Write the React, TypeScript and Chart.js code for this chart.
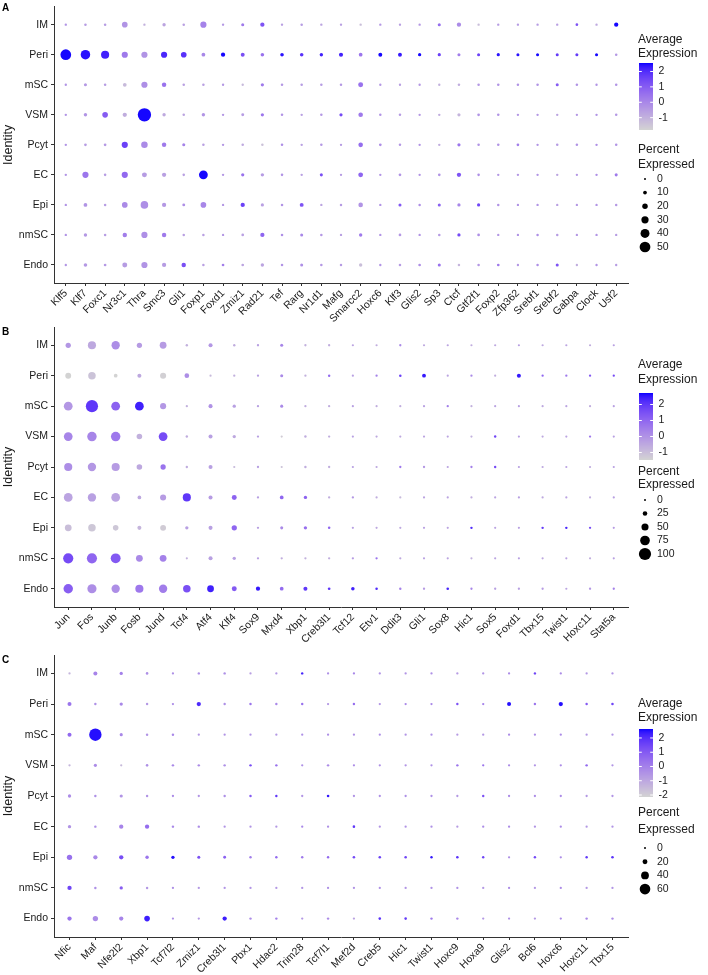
import React, { useEffect, useRef } from 'react';
import { Chart, registerables } from 'chart.js';

Chart.register(...registerables);

// ---------- data ----------
const CLUSTERS = ['IM', 'Peri', 'mSC', 'VSM', 'Pcyt', 'EC', 'Epi', 'nmSC', 'Endo'];

// Panel A
const GENES_A = ['Klf5', 'Klf7', 'Foxc1', 'Nr3c1', 'Thra', 'Smc3', 'Gli1', 'Foxp1', 'Foxd1', 'Zmiz1', 'Rad21', 'Tef', 'Rarg', 'Nr1d1', 'Mafg', 'Smarcc2', 'Hoxc6', 'Klf3', 'Glis2', 'Sp3', 'Ctcf', 'Gtf2f1', 'Foxp2', 'Zfp362', 'Srebf1', 'Srebf2', 'Gabpa', 'Clock', 'Usf2'];
// percent expressed, one row per gene, columns in CLUSTERS order
const PCT_A = [
  [2, 50, 2, 2, 2, 2, 2, 2, 2],
  [3, 43, 6, 8, 4, 24, 10, 8, 9],
  [3, 35, 3, 21, 4, 3, 3, 3, 4],
  [21, 24, 10, 13, 24, 24, 21, 14, 17],
  [2, 24, 24, 65, 26, 17, 32, 24, 24],
  [8, 24, 14, 8, 14, 13, 13, 14, 13],
  [3, 21, 3, 3, 6, 3, 5, 3, 14],
  [24, 10, 3, 8, 3, 39, 21, 3, 3],
  [2, 13, 2, 2, 2, 2, 2, 2, 4],
  [6, 11, 2, 5, 3, 7, 13, 4, 4],
  [13, 9, 7, 7, 3, 8, 7, 13, 8],
  [2, 9, 3, 3, 3, 3, 3, 3, 3],
  [3, 9, 3, 2, 2, 2, 11, 6, 6],
  [2, 8, 3, 3, 3, 6, 2, 3, 3],
  [2, 12, 3, 7, 2, 2, 3, 2, 3],
  [2, 10, 17, 15, 15, 16, 15, 8, 8],
  [2, 11, 2, 3, 4, 2, 2, 2, 2],
  [2, 11, 2, 3, 3, 4, 6, 4, 3],
  [2, 7, 2, 2, 2, 2, 3, 2, 4],
  [6, 7, 2, 2, 2, 4, 6, 3, 6],
  [13, 6, 3, 7, 7, 13, 7, 7, 3],
  [2, 6, 3, 4, 3, 3, 7, 4, 3],
  [2, 7, 3, 3, 3, 2, 3, 2, 4],
  [2, 6, 3, 2, 4, 2, 2, 2, 2],
  [2, 6, 3, 2, 2, 2, 2, 3, 3],
  [2, 6, 6, 2, 3, 2, 2, 3, 6],
  [4, 6, 3, 2, 3, 2, 2, 2, 2],
  [2, 6, 2, 2, 2, 2, 2, 2, 2],
  [13, 3, 3, 3, 3, 6, 3, 2, 2],
];
// scaled average expression
const AVG_A = [
  [-0.3, 2.5, -0.3, -0.3, -0.3, -0.3, -0.3, -0.3, -0.35],
  [-0.5, 2.4, -0.4, -0.3, -0.5, 0.4, -0.3, -0.4, -0.4],
  [-0.5, 2.2, -0.5, 1.0, -0.4, -0.5, -0.5, -0.5, -0.4],
  [-0.3, 0.3, -1.2, -0.9, 1.6, 0.7, -0.1, 0.2, -0.5],
  [-1.0, -0.3, -0.2, 2.5, -0.1, -0.5, -0.2, -0.2, -0.3],
  [-0.7, 2.1, 0.5, -0.8, 0.3, -0.6, -0.4, 0.3, -0.5],
  [-0.6, 1.9, -0.6, -0.7, 0.1, -0.6, -0.2, -0.6, 1.3],
  [0.1, 0.0, -0.6, -0.3, -0.6, 2.5, 0.0, -0.6, -0.6],
  [-0.4, 2.5, -0.4, -0.4, -0.4, -0.4, -0.4, -0.4, 0.2],
  [0.3, 1.3, -1.2, -0.5, -0.8, 0.5, 1.6, -0.6, -0.7],
  [1.2, 0.5, 0.3, 0.4, -1.4, -0.5, -0.6, 0.8, -0.7],
  [-0.6, 2.4, -0.4, -0.3, -0.2, -0.3, -0.3, -0.2, -0.3],
  [-0.5, 1.9, -0.5, -0.6, -0.6, -0.6, 1.2, 0.0, -0.2],
  [-0.7, 2.2, -0.5, -0.4, -0.4, 1.3, -0.7, -0.4, -0.4],
  [-0.6, 2.2, -0.4, 1.4, -0.5, -0.5, -0.5, -0.6, -0.5],
  [-1.3, 0.4, 0.5, 0.3, 0.6, 0.8, -0.3, 0.3, -1.3],
  [-0.4, 2.5, -0.4, -0.3, -0.2, -0.3, -0.3, -0.3, -0.3],
  [-0.6, 2.3, -0.6, -0.5, -0.4, -0.3, 1.1, -0.4, -0.5],
  [-0.4, 2.5, -0.4, -0.4, -0.3, -0.3, -0.2, -0.3, -0.2],
  [0.6, 1.6, -1.0, -0.9, -0.9, -0.3, 0.9, -0.5, 0.5],
  [-0.1, 0.2, -0.9, -1.1, 0.4, 1.2, 0.0, 1.4, -1.1],
  [-1.3, 1.6, -0.4, -0.3, -0.3, -0.2, 1.5, -0.2, -0.4],
  [-0.5, 2.4, -0.3, -0.3, -0.3, -0.4, -0.3, -0.4, 0.3],
  [-0.5, 2.4, -0.3, -0.4, 0.2, -0.4, -0.3, -0.3, -0.4],
  [-0.5, 2.5, -0.3, -0.4, -0.3, -0.3, -0.3, -0.2, -0.2],
  [-0.6, 1.7, 1.0, -0.7, -0.5, -0.7, -0.6, -0.5, 1.2],
  [1.2, 1.7, -0.3, -0.4, -0.3, -0.4, -0.4, -0.4, -0.9],
  [-0.8, 2.5, -0.3, -0.3, -0.2, -0.2, -0.3, -0.3, -0.3],
  [2.5, -0.4, -0.3, -0.4, -0.3, 0.3, -0.4, -0.5, -0.5],
];
const AVG_TICKS_A = [2, 1, 0, -1];
const PCT_TICKS_A = [0, 10, 20, 30, 40, 50];

// Panel B
const GENES_B = ['Jun', 'Fos', 'Junb', 'Fosb', 'Jund', 'Tcf4', 'Atf4', 'Klf4', 'Sox9', 'Mxd4', 'Xbp1', 'Creb3l1', 'Tcf12', 'Etv1', 'Ddit3', 'Gli1', 'Sox8', 'Hic1', 'Sox5', 'Foxd1', 'Tbx15', 'Twist1', 'Hoxc11', 'Stat5a'];
const PCT_B = [
  [32, 38, 66, 66, 60, 66, 47, 80, 73],
  [60, 54, 100, 73, 62, 62, 54, 80, 70],
  [62, 17, 66, 73, 60, 66, 35, 77, 62],
  [32, 20, 66, 35, 35, 17, 20, 47, 60],
  [47, 40, 40, 66, 32, 40, 38, 47, 62],
  [4, 26, 3, 4, 4, 60, 13, 2, 54],
  [20, 2, 20, 20, 20, 20, 20, 20, 47],
  [4, 3, 13, 13, 2, 29, 32, 13, 29],
  [3, 3, 3, 3, 3, 3, 3, 3, 22],
  [10, 10, 10, 2, 2, 17, 10, 3, 17],
  [3, 3, 3, 4, 4, 13, 13, 3, 20],
  [3, 4, 3, 3, 3, 3, 5, 3, 7],
  [2, 2, 2, 2, 2, 3, 2, 3, 15],
  [2, 3, 2, 2, 2, 2, 2, 3, 5],
  [3, 5, 2, 2, 3, 2, 2, 2, 4],
  [2, 18, 2, 2, 3, 2, 2, 2, 3],
  [2, 2, 3, 2, 2, 2, 2, 2, 6],
  [2, 3, 2, 2, 3, 2, 4, 2, 3],
  [2, 2, 2, 4, 4, 2, 2, 2, 3],
  [2, 20, 2, 2, 2, 2, 2, 2, 3],
  [2, 3, 2, 2, 2, 2, 4, 2, 3],
  [2, 3, 2, 2, 2, 2, 4, 2, 2],
  [2, 3, 2, 3, 2, 2, 3, 2, 3],
  [2, 3, 2, 2, 2, 2, 2, 2, 3],
];
const AVG_B = [
  [-0.1, -1.5, -0.1, 0.3, 0.1, -0.4, -1.0, 1.6, 1.2],
  [-0.5, -1.1, 2.0, 0.3, -0.1, -0.3, -1.2, 1.0, 0.1],
  [0.1, -1.5, 1.1, 0.6, -0.2, -0.4, -1.2, 1.3, 0.1],
  [-0.2, -0.5, 2.4, -0.7, -0.5, -0.5, -0.8, 0.2, 0.6],
  [-0.2, -1.4, -0.1, 1.6, 0.7, -0.2, -1.3, 0.4, 0.5],
  [-0.7, 0.1, -0.7, -0.6, -0.6, 2.0, -0.3, -0.7, 1.5],
  [-0.1, -0.9, 0.0, -0.3, -0.3, -0.2, -0.3, -0.3, 2.4],
  [-0.6, -0.7, -0.3, -0.5, -0.9, 1.1, 1.0, -0.3, 1.3],
  [-0.3, -0.3, -0.3, -0.3, -0.3, -0.3, -0.3, -0.3, 2.5],
  [0.3, 0.2, 0.2, -1.3, -1.1, 1.0, 0.2, -0.6, 0.9],
  [-0.7, -0.7, -0.6, -0.6, -0.6, 1.1, 0.8, -0.7, 2.0],
  [-0.6, 0.9, -0.6, -0.6, -0.6, -0.6, 1.0, -0.6, 2.0],
  [-0.4, -0.3, -0.3, -0.3, -0.3, -0.1, -0.3, -0.2, 2.4],
  [-0.6, 0.4, -0.6, -0.5, -0.5, -0.6, -0.5, 0.7, 2.2],
  [0.2, 1.8, -0.6, -0.5, 0.6, -0.9, -0.5, -0.5, 0.4],
  [-0.5, 2.5, -0.3, -0.4, -0.1, -0.4, -0.3, -0.3, -0.2],
  [-0.4, -0.4, 0.5, -0.4, -0.4, -0.4, -0.4, -0.4, 2.3],
  [-0.6, 0.2, -0.7, -0.7, 0.4, -0.6, 2.2, -0.7, 0.3],
  [-0.5, -0.6, -0.4, 1.7, 1.6, -0.4, -0.4, -0.4, -0.3],
  [-0.3, 2.6, -0.3, -0.3, -0.3, -0.3, -0.3, -0.3, -0.3],
  [-0.5, 1.0, -0.5, -0.5, -0.5, -0.5, 1.9, -0.5, -0.2],
  [-0.4, 0.6, -0.4, -0.4, -0.4, -0.4, 2.3, -0.4, -0.4],
  [-0.6, 1.3, -0.6, 0.6, -0.6, -0.6, 1.6, -0.6, -0.1],
  [-0.3, 1.6, -0.3, -0.3, -0.3, -0.3, -0.2, -0.3, 0.4],
];
const AVG_TICKS_B = [2, 1, 0, -1];
const PCT_TICKS_B = [0, 25, 50, 75, 100];

// Panel C
const GENES_C = ['Nfic', 'Maf', 'Nfe2l2', 'Xbp1', 'Tcf7l2', 'Zmiz1', 'Creb3l1', 'Pbx1', 'Hdac2', 'Trim28', 'Tcf7l1', 'Mef2d', 'Creb5', 'Hic1', 'Twist1', 'Hoxc9', 'Hoxa9', 'Glis2', 'Bcl6', 'Hoxc6', 'Hoxc11', 'Tbx15'];
const PCT_C = [
  [2, 14, 14, 2, 9, 9, 23, 16, 16],
  [14, 3, 72, 8, 3, 3, 16, 3, 23],
  [9, 9, 8, 2, 8, 16, 16, 9, 16],
  [4, 3, 3, 4, 3, 16, 10, 3, 25],
  [2, 2, 3, 3, 2, 3, 9, 2, 2],
  [3, 16, 2, 3, 2, 3, 7, 2, 2],
  [3, 3, 2, 3, 3, 2, 6, 2, 16],
  [2, 3, 2, 3, 3, 2, 3, 2, 3],
  [2, 3, 2, 3, 3, 2, 3, 2, 3],
  [3, 3, 2, 2, 2, 2, 3, 2, 2],
  [2, 2, 2, 3, 4, 2, 3, 2, 3],
  [2, 3, 2, 2, 2, 4, 4, 2, 2],
  [2, 2, 2, 2, 2, 2, 4, 2, 4],
  [2, 2, 2, 2, 2, 2, 4, 2, 4],
  [2, 2, 2, 2, 2, 2, 3, 2, 3],
  [2, 3, 2, 3, 2, 2, 4, 2, 3],
  [2, 2, 2, 2, 3, 2, 3, 2, 2],
  [2, 14, 2, 2, 2, 2, 2, 2, 2],
  [3, 3, 2, 2, 2, 2, 3, 2, 2],
  [2, 16, 2, 2, 2, 2, 2, 2, 2],
  [2, 3, 2, 3, 2, 2, 3, 2, 3],
  [2, 4, 2, 2, 2, 2, 4, 2, 3],
];
const AVG_C = [
  [-1.4, 0.3, 0.6, -1.4, -0.3, -0.5, 0.4, 1.5, 0.3],
  [-0.1, -0.4, 2.6, -0.3, -0.4, -0.4, -0.2, -0.4, -0.3],
  [0.0, -0.2, -0.2, -1.5, -0.5, -0.1, 1.3, 0.9, -0.1],
  [-0.4, -0.6, -0.5, -0.4, -0.5, 0.5, 0.3, -0.6, 2.3],
  [-0.4, -0.3, -0.2, -0.2, -0.3, -0.2, 2.5, -0.4, -0.4],
  [-0.4, 2.1, -0.6, -0.3, -0.5, -0.3, 1.2, -0.6, -0.6],
  [-0.4, -0.4, -0.5, -0.4, -0.4, -0.5, 0.8, -0.5, 2.3],
  [-0.8, 0.3, -0.5, 1.3, 1.0, -0.5, 0.1, -0.5, -0.3],
  [-0.6, -0.2, -0.6, 0.4, 1.8, -0.6, 0.6, -0.6, 0.0],
  [2.2, 0.4, -0.4, -0.4, -0.5, -0.2, 0.2, -0.5, -0.6],
  [-0.4, -0.6, -0.4, -0.3, 2.4, -0.4, 0.6, -0.4, -0.3],
  [-0.2, 0.5, -0.5, -0.3, -0.5, 1.8, 1.4, -0.5, -0.9],
  [-0.5, -0.5, -0.4, -0.4, -0.4, -0.5, 1.6, -0.4, 1.9],
  [-0.5, -0.2, -0.5, -0.5, -0.4, -0.5, 1.5, -0.5, 1.7],
  [-0.4, -0.2, -0.4, -0.4, -0.4, -0.4, 2.4, -0.4, 0.2],
  [-0.7, 1.2, -0.7, 0.3, -0.6, -0.7, 1.9, -0.4, -0.2],
  [-0.5, 0.0, -0.6, 0.3, 1.2, -0.3, 1.5, -0.6, -0.6],
  [-0.3, 2.6, -0.3, -0.3, -0.3, -0.3, -0.4, -0.3, -0.4],
  [1.5, 0.3, -0.4, -0.5, -0.3, -0.5, 1.4, -0.6, -0.6],
  [-0.3, 2.6, -0.3, -0.3, -0.3, -0.3, -0.3, -0.3, -0.3],
  [-0.6, 1.0, -0.6, 0.6, -0.6, -0.6, 1.8, -0.6, -0.2],
  [-0.5, 1.5, -0.5, -0.5, -0.5, -0.5, 1.9, -0.5, -0.3],
];
const AVG_TICKS_C = [2, 1, 0, -1, -2];
const PCT_TICKS_C = [0, 20, 40, 60];

// ---------- styling / layout ----------
const FONT = "'Liberation Sans', Arial, Helvetica, sans-serif";
const TEXT = '#1a1a1a';
const AXIS = '#333333';
const W = 708;
const AXIS_LEFT = 54;
const AXIS_RIGHT = 628;
const R_MIN = 1.0;

// colour helpers (Lab interpolation lightgrey -> blue, like ggplot's gradient)
function toLin(c: number) { c /= 255; return c <= 0.04045 ? c / 12.92 : Math.pow((c + 0.055) / 1.055, 2.4); }
function fromLin(c: number) { const v = c <= 0.0031308 ? 12.92 * c : 1.055 * Math.pow(c, 1 / 2.4) - 0.055; return Math.max(0, Math.min(255, Math.round(v * 255))); }
function rgbToLab(r: number, g: number, b: number) {
  const R = toLin(r), G = toLin(g), B = toLin(b);
  const X = (0.4124 * R + 0.3576 * G + 0.1805 * B) / 0.95047;
  const Y = 0.2126 * R + 0.7152 * G + 0.0722 * B;
  const Z = (0.0193 * R + 0.1192 * G + 0.9505 * B) / 1.08883;
  const f = (t: number) => (t > 0.008856 ? Math.cbrt(t) : 7.787 * t + 16 / 116);
  const fx = f(X), fy = f(Y), fz = f(Z);
  return [116 * fy - 16, 500 * (fx - fy), 200 * (fy - fz)];
}
function labToRgb(L: number, a: number, b: number) {
  const fy = (L + 16) / 116, fx = fy + a / 500, fz = fy - b / 200;
  const inv = (t: number) => (t * t * t > 0.008856 ? t * t * t : (t - 16 / 116) / 7.787);
  const X = inv(fx) * 0.95047, Y = inv(fy), Z = inv(fz) * 1.08883;
  const R = 3.2406 * X - 1.5372 * Y - 0.4986 * Z;
  const G = -0.9689 * X + 1.8758 * Y + 0.0415 * Z;
  const B = 0.0557 * X - 0.204 * Y + 1.057 * Z;
  return `rgb(${fromLin(R)},${fromLin(G)},${fromLin(B)})`;
}
const LAB_LO = rgbToLab(211, 211, 211);
const LAB_HI = rgbToLab(0, 0, 255);
function colorFor(v: number, lo: number, hi: number) {
  const t = Math.max(0, Math.min(1, (v - lo) / (hi - lo)));
  return labToRgb(
    LAB_LO[0] + t * (LAB_HI[0] - LAB_LO[0]),
    LAB_LO[1] + t * (LAB_HI[1] - LAB_LO[1]),
    LAB_LO[2] + t * (LAB_HI[2] - LAB_LO[2])
  );
}

type Panel = {
  letter: string; genes: string[]; pct: number[][]; avg: number[][];
  avgTicks: number[]; pctTicks: number[];
  offset: number; height: number; top: number; bottom: number;
  range: [number, number]; rMax: number; pctMax: number;
  avgTitleY: [number, number]; barTop: number; barBottom: number;
  pctTitleY: [number, number]; pctY0: number; pctStep: number;
};

const PANELS: Panel[] = [
  {
    letter: 'A', genes: GENES_A, pct: PCT_A, avg: AVG_A, avgTicks: AVG_TICKS_A, pctTicks: PCT_TICKS_A,
    offset: 0, height: 335, top: 3, bottom: 283, range: [-1.8, 2.55], rMax: 6.5, pctMax: 63,
    avgTitleY: [40, 54], barTop: 63, barBottom: 130, pctTitleY: [150, 165], pctY0: 179, pctStep: 13.6,
  },
  {
    letter: 'B', genes: GENES_B, pct: PCT_B, avg: AVG_B, avgTicks: AVG_TICKS_B, pctTicks: PCT_TICKS_B,
    offset: 320, height: 340, top: 7, bottom: 287, range: [-1.47, 2.72], rMax: 6.1, pctMax: 100,
    avgTitleY: [45, 60], barTop: 73, barBottom: 140, pctTitleY: [152, 165], pctY0: 180, pctStep: 13.5,
  },
  {
    letter: 'C', genes: GENES_C, pct: PCT_C, avg: AVG_C, avgTicks: AVG_TICKS_C, pctTicks: PCT_TICKS_C,
    offset: 630, height: 345, top: 25, bottom: 307, range: [-2.14, 2.63], rMax: 6.2, pctMax: 72,
    avgTitleY: [74, 88], barTop: 99, barBottom: 167, pctTitleY: [183, 200], pctY0: 218, pctStep: 13.7,
  },
];

function makeChart(canvas: HTMLCanvasElement, p: Panel) {
  const [lo, hi] = p.range;
  const rFor = (pct: number) => R_MIN + ((p.rMax - R_MIN) * pct) / p.pctMax;
  const points: any[] = [];
  const colors: string[] = [];
  p.genes.forEach((g, gi) => {
    CLUSTERS.forEach((c, ci) => {
      points.push({ x: gi, y: ci, r: rFor(p.pct[gi][ci]) });
      colors.push(colorFor(Math.max(-2.5, Math.min(2.5, p.avg[gi][ci])), lo, hi));
    });
  });

  const decor = {
    id: 'decor',
    afterDraw(chart: any) {
      const ctx = chart.ctx as CanvasRenderingContext2D;
      ctx.save();
      // panel letter
      ctx.fillStyle = '#000';
      ctx.font = `bold 10px ${FONT}`;
      ctx.textAlign = 'left';
      ctx.textBaseline = 'middle';
      ctx.fillText(p.letter, 2, p.top + 5);

      const LX = 638;
      ctx.fillStyle = TEXT;
      ctx.font = `12px ${FONT}`;
      ctx.fillText('Average', LX, p.avgTitleY[0]);
      ctx.fillText('Expression', LX, p.avgTitleY[1]);
      const BX = 639, BW = 14;
      const bh = p.barBottom - p.barTop;
      for (let i = 0; i < bh; i++) {
        const v = hi - ((i + 0.5) / bh) * (hi - lo);
        ctx.fillStyle = colorFor(v, lo, hi);
        ctx.fillRect(BX, p.barTop + i, BW, 1);
      }
      ctx.font = `10.5px ${FONT}`;
      p.avgTicks.forEach((t) => {
        const y = p.barTop + ((hi - t) / (hi - lo)) * bh;
        ctx.strokeStyle = '#ffffff';
        ctx.lineWidth = 1;
        ctx.beginPath();
        ctx.moveTo(BX, y); ctx.lineTo(BX + 2.8, y);
        ctx.moveTo(BX + BW - 2.8, y); ctx.lineTo(BX + BW, y);
        ctx.stroke();
        ctx.fillStyle = TEXT;
        ctx.fillText(String(t), BX + BW + 5.5, y);
      });

      ctx.font = `12px ${FONT}`;
      ctx.fillStyle = TEXT;
      ctx.fillText('Percent', LX, p.pctTitleY[0]);
      ctx.fillText('Expressed', LX, p.pctTitleY[1]);
      ctx.font = `10.5px ${FONT}`;
      p.pctTicks.forEach((t, i) => {
        const y = p.pctY0 + i * p.pctStep;
        ctx.fillStyle = '#000';
        ctx.beginPath();
        ctx.arc(645, y, rFor(t), 0, Math.PI * 2);
        ctx.fill();
        ctx.fillStyle = TEXT;
        ctx.fillText(String(t), 657, y);
      });
      ctx.restore();
    },
  };

  const tickFont = { family: FONT, size: 10.5 };
  return new Chart(canvas, {
    type: 'bubble',
    data: {
      datasets: [{
        data: points,
        backgroundColor: colors,
        borderWidth: 0,
        hoverBorderWidth: 0,
        hoverRadius: 0,
      } as any],
    },
    options: {
      responsive: false,
      animation: false,
      devicePixelRatio: 1,
      events: [],
      layout: { padding: { left: 0, right: W - AXIS_RIGHT, top: p.top, bottom: 0 } },
      plugins: { legend: { display: false }, tooltip: { enabled: false } },
      scales: {
        x: {
          type: 'linear',
          min: -0.6,
          max: p.genes.length - 0.4,
          afterBuildTicks: (s: any) => { s.ticks = p.genes.map((_, i) => ({ value: i })); },
          afterFit: (s: any) => { s.height = p.height - p.bottom; s.paddingLeft = 0; s.paddingRight = 0; },
          ticks: {
            autoSkip: false, minRotation: 45, maxRotation: 45,
            callback: (v: any) => p.genes[v as number] ?? '',
            font: tickFont, color: TEXT, padding: 1,
          },
          grid: { drawOnChartArea: false, drawTicks: true, tickLength: 3, color: AXIS, lineWidth: 1 },
          border: { display: true, color: AXIS, width: 1 },
        },
        y: {
          type: 'linear',
          reverse: true,
          min: -0.6,
          max: CLUSTERS.length - 0.4,
          afterBuildTicks: (s: any) => { s.ticks = CLUSTERS.map((_, i) => ({ value: i })); },
          afterFit: (s: any) => { s.width = AXIS_LEFT; s.paddingTop = 0; s.paddingBottom = 0; },
          ticks: {
            autoSkip: false,
            callback: (v: any) => CLUSTERS[v as number] ?? '',
            font: tickFont, color: TEXT, padding: 3,
          },
          grid: { drawOnChartArea: false, drawTicks: true, tickLength: 3, color: AXIS, lineWidth: 1 },
          border: { display: true, color: AXIS, width: 1 },
          title: { display: true, text: 'Identity', font: { family: FONT, size: 12.5 }, color: TEXT, padding: { top: 1, bottom: 0 } },
        },
      },
    } as any,
    plugins: [decor],
  });
}

function PanelChart({ p }: { p: Panel }) {
  const ref = useRef<HTMLCanvasElement | null>(null);
  useEffect(() => {
    if (!ref.current) return;
    const c = makeChart(ref.current, p);
    return () => c.destroy();
  }, [p]);
  return (
    <canvas
      ref={ref}
      width={W}
      height={p.height}
      style={{ position: 'absolute', left: 0, top: p.offset, display: 'block', width: W, height: p.height }}
    />
  );
}

export default function App() {
  return (
    <div style={{ position: 'absolute', left: 0, top: 0, width: W, height: 975, background: '#ffffff' }}>
      {PANELS.map((p) => <PanelChart key={p.letter} p={p} />)}
    </div>
  );
}
